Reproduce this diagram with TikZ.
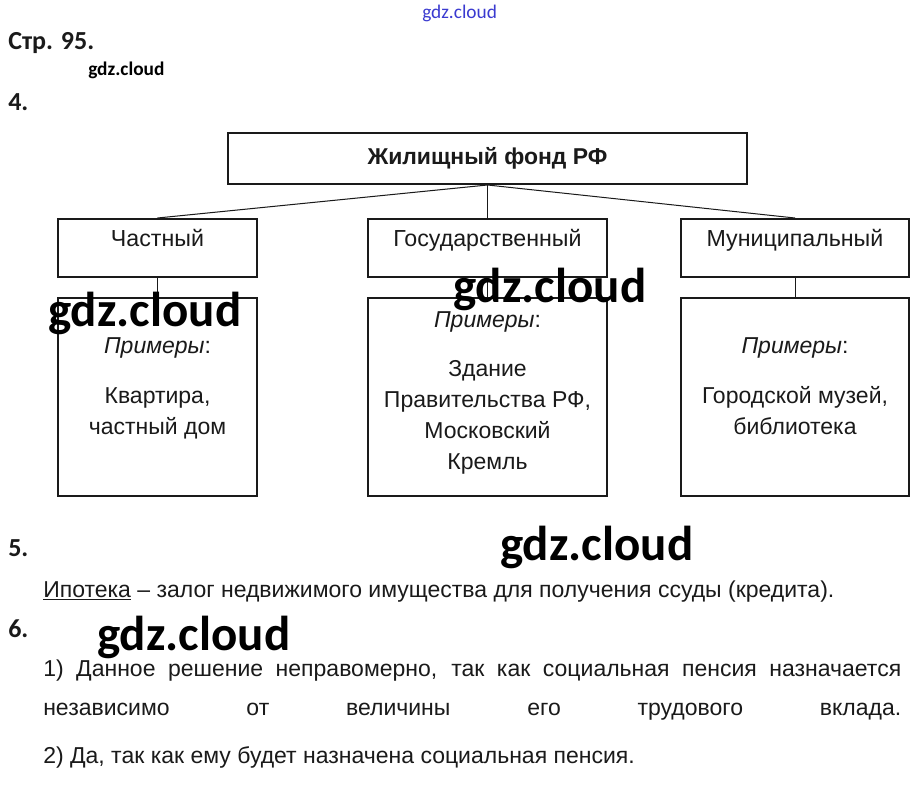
\documentclass[tikz,border=0pt]{standalone}
\usepackage{fontspec}
\setmainfont{Liberation Sans}
\newfontfamily\wmfont{Carlito}
\usepackage{tikz}
\usetikzlibrary{positioning}
\definecolor{ink}{HTML}{1A1A1A}
\definecolor{markblue}{HTML}{3A3AD0}

\begin{document}
\begin{tikzpicture}[x=0.75pt,y=-0.75pt,
  every node/.style={inner sep=0pt,text=ink},
  fund/.style={draw=ink,line width=1.5pt,minimum width=389.25pt,minimum height=38.25pt,
               font=\bfseries\fontsize{17.2pt}{20pt}\selectfont},
  kind/.style={draw=ink,line width=1.5pt,minimum height=43.5pt,text height=20.25pt,
               text depth=23.25pt,font=\fontsize{17.4pt}{20pt}\selectfont},
  exbox/.style={draw=ink,line width=1.5pt,minimum height=148.5pt},
  extext/.style={anchor=north,align=center,font=\fontsize{17.25pt}{23.25pt}\selectfont},
  link/.style={draw=ink,line width=0.75pt},
  body/.style={anchor=base west,font=\fontsize{17.25pt}{20pt}\selectfont},
  num/.style={anchor=base west,font=\wmfont\bfseries\fontsize{19.5pt}{22pt}\selectfont},
  wm/.style={anchor=base west,text=black,font=\wmfont\bfseries\fontsize{36.75pt}{40pt}\selectfont}]
  \fill[white] (0,0) rectangle (918,785);
  \useasboundingbox (0,0) rectangle (918,785);
  % headings
  \node[anchor=base west,text=markblue,font=\wmfont\fontsize{14.5pt}{16pt}\selectfont] (wmtop) at (422,18) {gdz.cloud};
  \node[num] (page) at (8,50) {Стр. 95.};
  \node[anchor=base west,text=black,font=\wmfont\bfseries\fontsize{14.5pt}{16pt}\selectfont] (wmsmall) at (88,75) {gdz.cloud};
  \node[num] (task4) at (8,110) {4.};
  % scheme
  \node[fund] (fund) at (487.5,158.5) {Жилищный фонд РФ};
  \node[kind,minimum width=149.25pt] (private) at (157.5,248) {Частный};
  \node[kind,minimum width=179.25pt] (state) at (487.5,248) {Государственный};
  \node[kind,minimum width=171pt] (munic) at (795,248) {Муниципальный};
  \node[exbox,minimum width=149.25pt] (exprivate) at (157.5,397) {};
  \node[exbox,minimum width=179.25pt] (exstate) at (487.5,397) {};
  \node[exbox,minimum width=171pt] (exmunic) at (795,397) {};
  \node[extext] (txprivate) at ([yshift=-30pt]exprivate.north)
       {\textit{Примеры}:\\[14.25pt] Квартира,\\ частный дом};
  \node[extext] (txstate) at ([yshift=-10.5pt]exstate.north)
       {\textit{Примеры}:\\[13.5pt] Здание\\ Правительства РФ,\\ Московский\\ Кремль};
  \node[extext] (txmunic) at ([yshift=-30pt]exmunic.north)
       {\textit{Примеры}:\\[14.25pt] Городской музей,\\ библиотека};
  \foreach \a/\b in {fund/private,fund/state,fund/munic,private/exprivate,state/exstate,munic/exmunic}
    \draw[link] (\a.south) -- (\b.north);
  % answers
  \node[num] (task5) at (8,556) {5.};
  \node[body] (mortgage) at (43,597) {\underline{Ипотека} – залог недвижимого имущества для получения ссуды (кредита).};
  \node[num] (task6) at (8,637) {6.};
  \node[body] (ans1a) at (43,676) {\makebox[643.5pt][s]{1) Данное решение неправомерно, так как социальная пенсия назначается}};
  \node[body] (ans1b) at (43,715) {\makebox[643.5pt][s]{независимо от величины его трудового вклада.}};
  \node[body] (ans2) at (43,763) {2) Да, так как ему будет назначена социальная пенсия.};
  % watermarks
  \node[wm] (wm1) at (48,326) {gdz.cloud};
  \node[wm] (wm2) at (453,302) {gdz.cloud};
  \node[wm] (wm3) at (500,560) {gdz.cloud};
  \node[wm] (wm4) at (97,650) {gdz.cloud};
\end{tikzpicture}
\end{document}
